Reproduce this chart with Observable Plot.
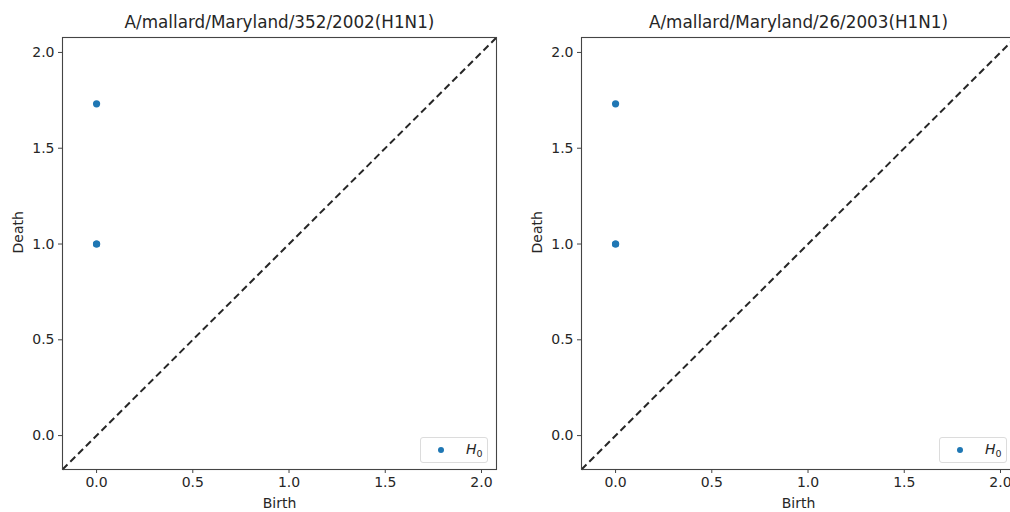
<!DOCTYPE html>
<html>
<head>
<meta charset="utf-8">
<script src="https://cdn.jsdelivr.net/npm/d3@7"></script>
<script src="https://cdn.jsdelivr.net/npm/@observablehq/plot@0.6"></script>
<style>
  html, body { margin: 0; padding: 0; background: #fff; overflow: hidden; width: 1010px; height: 512px; }
  #wrap { position: relative; width: 1010px; height: 512px; overflow: hidden; }
  .panel { position: absolute; top: 0; width: 519px; height: 512px; }
  .legend { position: absolute; left: 420px; top: 437px; width: 66px; height: 24px;
    border: 1px solid #dcdcdc; border-radius: 3px; background: rgba(255,255,255,0.8);
    font-family: "DejaVu Sans", sans-serif; color: #262626; }
  .legend .mk { position: absolute; left: 17px; top: 9px; width: 6px; height: 6px; border-radius: 50%; background: #1f77b4; }
  .legend .lb { position: absolute; left: 45px; top: 3px; font-size: 14px; font-style: italic; line-height: 16px; }
  .legend .lb sub { font-style: normal; font-size: 9.5px; vertical-align: -3px; }
</style>
</head>
<body>
<div id="wrap"></div>
<script>
// ---- data ----
const titles = ["A/mallard/Maryland/352/2002(H1N1)", "A/mallard/Maryland/26/2003(H1N1)"];
const birth352 = [0, 0, 0];
const death352 = [1.732, 1.0, 1.0];
const birth26 = [0, 0, 0];
const death26 = [1.732, 1.0, 1.0];
const axisTicks = [0, 0.5, 1.0, 1.5, 2.0];
const axisDomain = [-0.177, 2.078];
const legendLabel = "H0";

const panels = [
  {title: titles[0], birth: birth352, death: death352},
  {title: titles[1], birth: birth26, death: death26}
];

const wrap = document.getElementById("wrap");
panels.forEach((p, i) => {
  const pts = p.birth.map((b, k) => ({birth: b, death: p.death[k]}));
  const diag = [{a: axisDomain[0], b: axisDomain[1]}];
  const chart = Plot.plot({
    width: 519,
    height: 512,
    marginLeft: 62,
    marginRight: 23,
    marginTop: 37,
    marginBottom: 43,
    style: {fontFamily: "DejaVu Sans, sans-serif", fontSize: "14px", color: "#262626", background: "white"},
    x: {domain: axisDomain, ticks: axisTicks, tickFormat: ".1f", label: null},
    y: {domain: axisDomain, ticks: axisTicks, tickFormat: ".1f", label: null},
    marks: [
      Plot.link(diag, {x1: "a", y1: "a", x2: "b", y2: "b", stroke: "#262626", strokeWidth: 2, strokeDasharray: "7,4"}),
      Plot.dot(pts, {x: "birth", y: "death", r: 3.6, fill: "#1f77b4", stroke: "none"}),
      Plot.frame({stroke: "#444", strokeWidth: 1.1}),
      Plot.axisX({ticks: axisTicks, tickFormat: ".1f", tickSize: 4, tickPadding: 4, stroke: "#444", label: null, fontSize: 14}),
      Plot.axisY({ticks: axisTicks, tickFormat: ".1f", tickSize: 4, tickPadding: 4, stroke: "#444", label: null, fontSize: 14}),
      Plot.text([p.title], {frameAnchor: "top", dy: -15, text: d => d, fontSize: 16.8, lineAnchor: "middle", fill: "#262626"}),
      Plot.text(["Birth"], {frameAnchor: "bottom", dy: 34, text: d => d, fontSize: 14, lineAnchor: "middle", fill: "#262626"}),
      Plot.text(["Death"], {frameAnchor: "left", dx: -44, rotate: -90, text: d => d, fontSize: 14, lineAnchor: "middle", fill: "#262626"})
    ]
  });
  const div = document.createElement("div");
  div.className = "panel";
  div.style.left = (i * 519) + "px";
  div.appendChild(chart);
  const lg = document.createElement("div");
  lg.className = "legend";
  lg.innerHTML = `<div class="mk"></div><div class="lb">${legendLabel[0]}<sub>${legendLabel.slice(1)}</sub></div>`;
  div.appendChild(lg);
  wrap.appendChild(div);
});
</script>
</body>
</html>
